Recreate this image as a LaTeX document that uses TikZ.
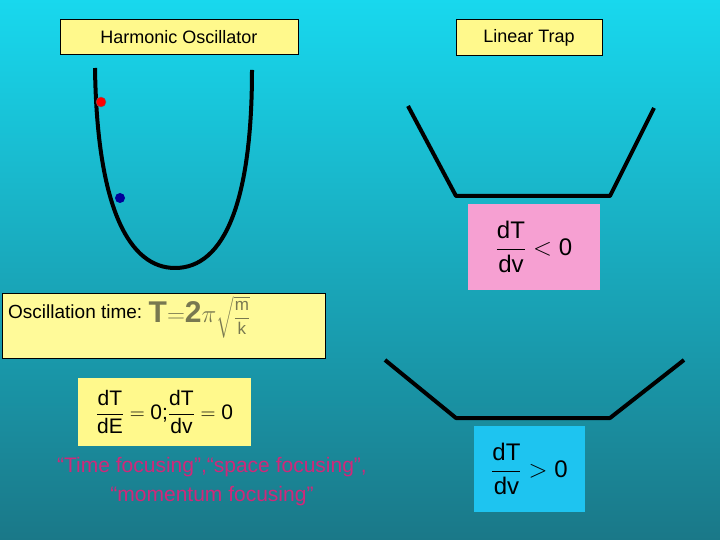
\documentclass[tikz,border=0pt]{standalone}
\usepackage{amsmath}
\usepackage{fontspec}
\setmainfont{Liberation Sans}
\newcommand{\tx}[1]{\text{#1}}
\begin{document}
\begin{tikzpicture}[x=1pt,y=-1pt,
  lbl/.style={draw=black,fill=yellow!45,line width=1pt,font=\fontsize{18}{20}\selectfont,inner sep=0pt},
  curve/.style={line width=4pt,black,line join=round},
  eq/.style={font=\fontsize{24}{28}\selectfont}]
\useasboundingbox (0,0) rectangle (720,540);
\shade[top color={rgb,255:red,24;green,216;blue,238}, bottom color={rgb,255:red,26;green,120;blue,136}] (0,0) rectangle (720,540);
% title boxes
\node[lbl,minimum width=238,minimum height=35] (ho) at (179,37.5) {Harmonic Oscillator};
\node[lbl,minimum width=146,minimum height=36] (lt) at (529,38) {Linear Trap};
% parabola
\draw[curve] (95,68) .. controls (97,210) and (130,268) .. (175,268) .. controls (225,268) and (252,200) .. (252,70);
\fill[red] (101,102) circle (5) node (r) {};
\draw[black!60] (101,102) circle (5);
\fill[blue!60!black] (120,198) circle (5) node (b) {};
% traps
\draw[curve] (408,106) -- (456,196) -- (610,196) -- (654,108);
\draw[curve] (385,360) -- (456,418) -- (610,418) -- (684,360);
% pink box
\node[fill={rgb,255:red,246;green,160;blue,210},minimum width=132,minimum height=86,eq] (pk) at (534,247) {$\dfrac{\tx{dT}}{\tx{dv}}<\tx{0}$};
% blue box
\node[fill={rgb,255:red,30;green,196;blue,240},minimum width=111,minimum height=86,eq] (bl) at (529.5,469) {$\dfrac{\tx{dT}}{\tx{dv}}>\tx{0}$};
% oscillation box
\node[draw=black,fill=yellow!40,line width=1pt,minimum width=323,minimum height=65] (os) at (163.5,325.5) {};
\node[anchor=west,font=\fontsize{19}{22}\selectfont,inner sep=0pt] (ot) at (8,312) {Oscillation time:};
\node[anchor=west,text={rgb,255:red,120;green,120;blue,80},font=\fontsize{17}{20}\selectfont,inner sep=0pt] (fo) at ([xshift=6pt,yshift=-5pt]ot.east) {{\fontsize{30}{30}\selectfont\bfseries T${=}$2$\pi$}$\sqrt{\dfrac{\tx{m}}{\tx{k}}}$};
% dT/dE box
\node[fill=yellow!45,minimum width=173,minimum height=68,font=\fontsize{21}{24}\selectfont] (de) at (164.5,412) {$\dfrac{\tx{dT}}{\tx{dE}}=\tx{0;}\dfrac{\tx{dT}}{\tx{dv}}=\tx{0}$};
% pink text
\node[text={rgb,255:red,208;green,40;blue,122},font=\fontsize{21}{29}\selectfont,align=center] (pt) at (212,482) {``Time focusing'',``space focusing'',\\``momentum focusing''};
\end{tikzpicture}
\end{document}
